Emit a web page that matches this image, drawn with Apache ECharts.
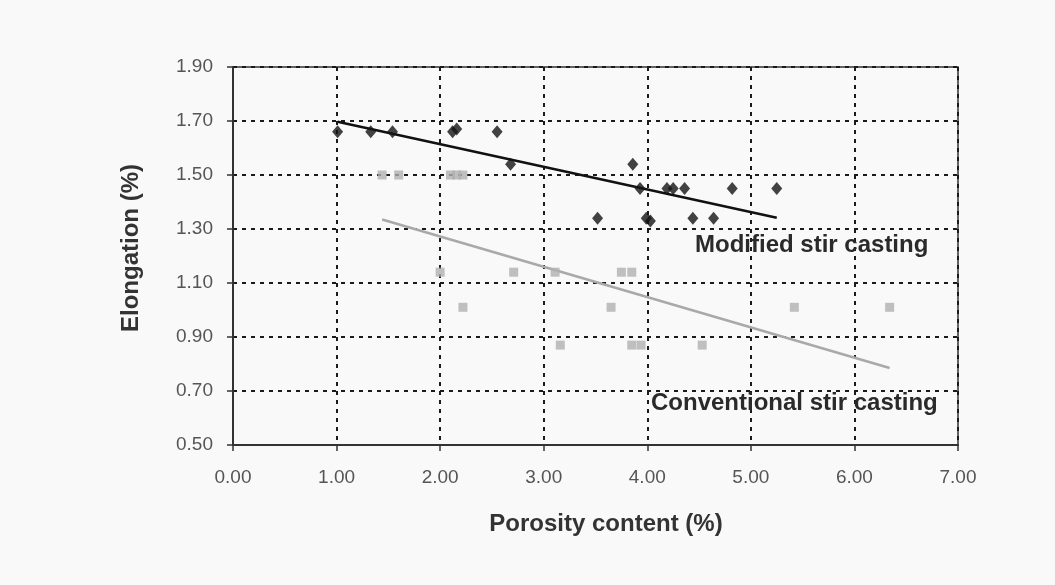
<!DOCTYPE html>
<html>
<head>
<meta charset="utf-8">
<title>Elongation vs porosity content</title>
<script src="https://cdn.jsdelivr.net/npm/echarts@6/dist/echarts.min.js"></script>
<style>
  html, body { margin: 0; padding: 0; background: #f9f9f9; }
  #chart { width: 1055px; height: 585px; }
</style>
</head>
<body>
<div id="chart"></div>
<script>
// Porosity content (%) and elongation (%) pairs, modified stir casting
const modifiedX = [1.01, 1.33, 1.54, 2.12, 2.16, 2.55, 2.68, 3.52, 3.86, 3.93, 3.99, 4.03, 4.19, 4.25, 4.36, 4.44, 4.64, 4.82, 5.25];
const modifiedY = [1.66, 1.66, 1.66, 1.66, 1.67, 1.66, 1.54, 1.34, 1.54, 1.45, 1.34, 1.33, 1.45, 1.45, 1.45, 1.34, 1.34, 1.45, 1.45];

// Conventional stir casting
const conventionalX = [1.44, 1.60, 2.10, 2.16, 2.22, 2.00, 2.22, 2.71, 3.11, 3.16, 3.65, 3.75, 3.85, 3.85, 3.94, 4.53, 5.42, 6.34];
const conventionalY = [1.50, 1.50, 1.50, 1.50, 1.50, 1.14, 1.01, 1.14, 1.14, 0.87, 1.01, 1.14, 1.14, 0.87, 0.87, 0.87, 1.01, 1.01];

// Linear trend lines: [x, y] at each end
const modifiedTrend = [[1.01, 1.697], [5.25, 1.342]];
const conventionalTrend = [[1.44, 1.335], [6.34, 0.785]];

// Axis ticks
const xTicks = [0, 1, 2, 3, 4, 5, 6, 7];
const yTicks = [0.5, 0.7, 0.9, 1.1, 1.3, 1.5, 1.7, 1.9];

const pairs = (xs, ys) => xs.map((x, i) => [x, ys[i]]);

const gridLine = { show: true, lineStyle: { color: '#1a1a1a', width: 2, type: [4, 5] } };
const tickFont = '"Liberation Sans", Arial, sans-serif';
const titleFont = '"Liberation Sans", Arial, sans-serif';

const chart = echarts.init(document.getElementById('chart'), null, { renderer: 'canvas' });

chart.setOption({
  backgroundColor: '#f9f9f9',
  animation: false,
  grid: {
    left: 233, top: 67, width: 725, height: 378,
    show: true, borderColor: '#333', borderWidth: 1.5, backgroundColor: 'transparent'
  },
  xAxis: {
    type: 'value', min: 0, max: 7, interval: 1,
    axisLine: { show: true, onZero: false, lineStyle: { color: '#333', width: 2 } },
    axisTick: { show: true, length: 6, customValues: xTicks, lineStyle: { color: '#333', width: 1.5 } },
    axisLabel: {
      customValues: xTicks, margin: 23,
      color: '#555', fontSize: 19, fontFamily: tickFont,
      formatter: v => v.toFixed(2)
    },
    splitLine: gridLine
  },
  yAxis: {
    type: 'value', min: 0.5, max: 1.9,
    axisLine: { show: true, onZero: false, lineStyle: { color: '#333', width: 2 } },
    axisTick: { show: true, length: 6, customValues: yTicks, lineStyle: { color: '#333', width: 1.5 } },
    axisLabel: {
      customValues: yTicks, margin: 20,
      color: '#555', fontSize: 19, fontFamily: tickFont,
      formatter: v => v.toFixed(2)
    },
    splitLine: gridLine
  },
  series: [
    {
      name: 'Modified stir casting trend',
      type: 'line', data: modifiedTrend, symbol: 'none', z: 3,
      lineStyle: { color: '#111', width: 2.5 }
    },
    {
      name: 'Conventional stir casting trend',
      type: 'line', data: conventionalTrend, symbol: 'none', z: 3,
      lineStyle: { color: '#a9a9a9', width: 2.5 }
    },
    {
      name: 'Modified stir casting',
      type: 'scatter', data: pairs(modifiedX, modifiedY),
      symbol: 'diamond', symbolSize: [11, 13], z: 4,
      itemStyle: { color: '#141414' }
    },
    {
      name: 'Conventional stir casting',
      type: 'scatter', data: pairs(conventionalX, conventionalY),
      symbol: 'rect', symbolSize: 9, z: 4,
      itemStyle: { color: '#b0b0b0' }
    }
  ],
  graphic: [
    {
      type: 'text', left: 695, top: 233, z: 10,
      style: { text: 'Modified stir casting', fill: '#2a2a2a', font: 'bold 24px ' + titleFont }
    },
    {
      type: 'text', left: 651, top: 391, z: 10,
      style: { text: 'Conventional stir casting', fill: '#2a2a2a', font: 'bold 24px ' + titleFont }
    },
    {
      type: 'text', x: 606, y: 524, z: 10,
      style: { text: 'Porosity content (%)', fill: '#333', font: 'bold 24px ' + titleFont, align: 'center', verticalAlign: 'middle' }
    },
    {
      type: 'text', x: 131, y: 248, rotation: Math.PI / 2, z: 10,
      style: { text: 'Elongation (%)', fill: '#333', font: 'bold 24px ' + titleFont, align: 'center', verticalAlign: 'middle' }
    }
  ]
});
</script>
</body>
</html>
